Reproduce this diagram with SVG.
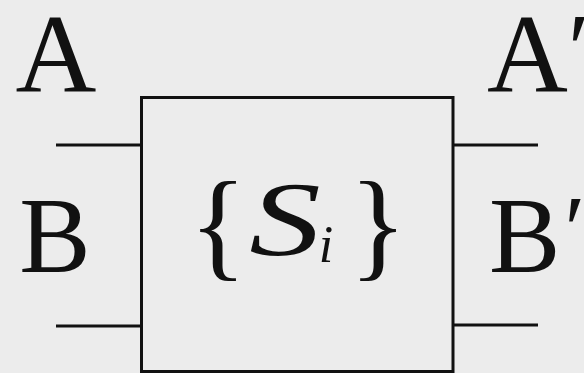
<svg xmlns="http://www.w3.org/2000/svg" width="584" height="373" viewBox="0 0 584 373">
<style>
.wire{stroke:#111;stroke-width:3;fill:none;}
.lbl{font-family:'Liberation Serif','Times New Roman',serif !important;fill:#111;}
</style>
<rect x="0" y="0" width="584" height="373" fill="#ececec"/>
<g id="connectors">
<line class="wire" x1="56" y1="145" x2="141" y2="145"/>
<line class="wire" x1="56" y1="326" x2="141" y2="326"/>
<line class="wire" x1="453" y1="145" x2="538" y2="145"/>
<line class="wire" x1="453" y1="325" x2="538" y2="325"/>
</g>
<g id="box">
<rect class="wire" x="141.5" y="97.5" width="311.5" height="274"/>
<text class="lbl" style="font-family:'Liberation Serif',serif !important" x="218" y="265" font-size="120" text-anchor="middle">{</text>
<text class="lbl" style="font-family:'Liberation Serif',serif !important" transform="translate(285 255) scale(1.35 1)" font-size="106" font-style="italic" text-anchor="middle">S</text>
<text class="lbl" style="font-family:'Liberation Serif',serif !important" x="326" y="262" font-size="52" font-style="italic" text-anchor="middle">i</text>
<text class="lbl" style="font-family:'Liberation Serif',serif !important" x="378" y="265" font-size="120" text-anchor="middle">}</text>
</g>
<g id="label-A"><text class="lbl" style="font-family:'Liberation Serif',serif !important" x="56" y="92" font-size="112" text-anchor="middle">A</text></g>
<g id="label-B"><text class="lbl" style="font-family:'Liberation Serif',serif !important" x="55" y="272" font-size="107" text-anchor="middle">B</text></g>
<g id="label-A-prime"><text class="lbl" style="font-family:'Liberation Serif',serif !important" x="487" y="92" font-size="112">A<tspan font-size="100" dy="-10">′</tspan></text></g>
<g id="label-B-prime"><text class="lbl" style="font-family:'Liberation Serif',serif !important" x="489" y="272" font-size="107">B<tspan font-size="95" dx="4" dy="-10">′</tspan></text></g>
</svg>
